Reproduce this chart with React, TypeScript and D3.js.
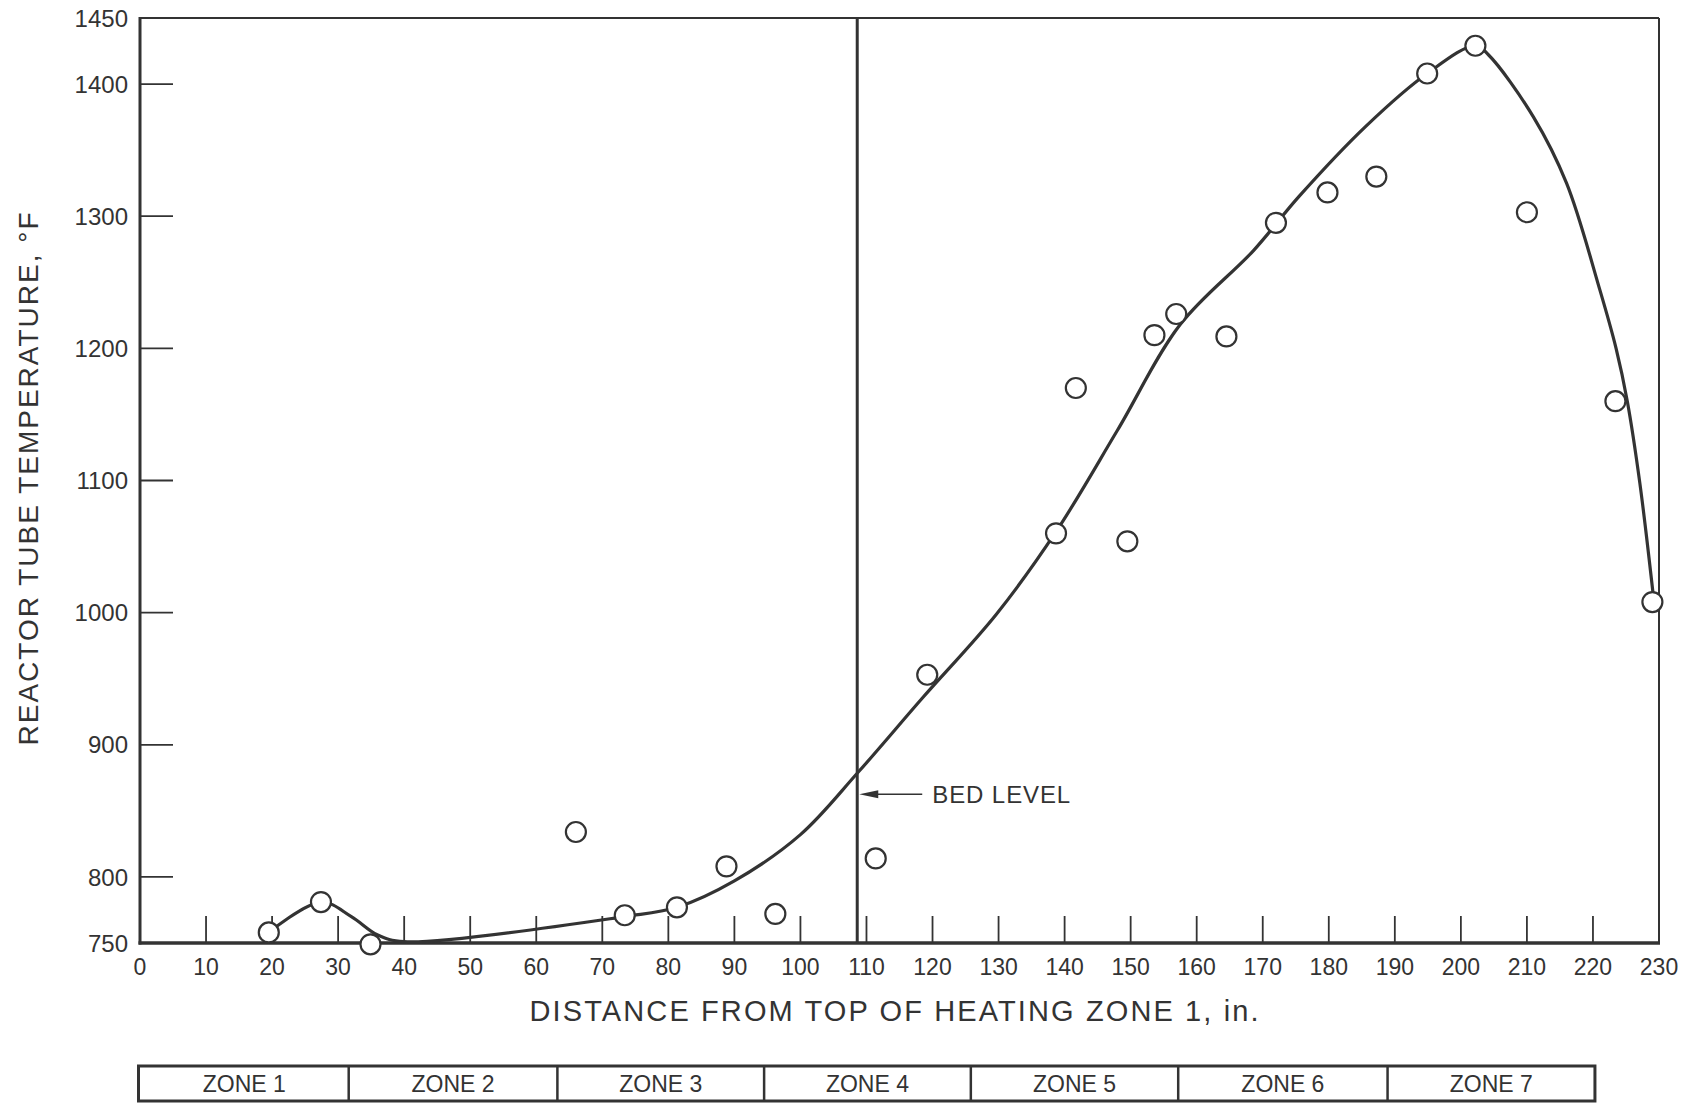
import React from 'react';
import * as d3 from 'd3';

// measured points: distance from top of heating zone 1 (in) and tube temperature (F)
const pointX = [19.5, 27.4, 34.9, 66, 73.4, 81.3, 88.8, 96.2, 111.4, 119.2, 138.7, 141.7, 149.5, 153.6, 156.9, 164.5, 172, 179.8, 187.2, 194.9, 202.2, 210, 223.4, 229];
const pointT = [758, 781, 749, 834, 771, 777, 808, 772, 814, 953, 1060, 1170, 1054, 1210, 1226, 1209, 1295, 1318, 1330, 1408, 1429, 1303, 1160, 1008];

// hand-drawn fitted curve
const curveX = [19.5, 27.4, 32, 36, 40, 73.4, 81.3, 90, 100, 108.7, 118.4, 129.7, 138.8, 148, 157.5, 168.6, 175.5, 185.6, 194.9, 202.2, 204.2, 211, 216, 221, 223.5, 225.2, 227.1, 229.2];
const curveT = [758, 781, 770, 756, 751, 770, 777, 797, 832, 879, 935, 999, 1062, 1138, 1218, 1274, 1315, 1368, 1408, 1429, 1422, 1375, 1325, 1245, 1200, 1160, 1098, 1010];

const bedLevelX = 108.6;
const bedArrowT = 862.5;

const xTickValues = [10, 20, 30, 40, 50, 60, 70, 80, 90, 100, 110, 120, 130, 140, 150, 160, 170, 180, 190, 200, 210, 220];
const xTickLabels = ['0', '10', '20', '30', '40', '50', '60', '70', '80', '90', '100', '110', '120', '130', '140', '150', '160', '170', '180', '190', '200', '210', '220', '230'];
const yTickValues = [800, 900, 1000, 1100, 1200, 1300, 1400];
const yTickLabels = [750, 800, 900, 1000, 1100, 1200, 1300, 1400, 1450];

const zoneNames = ['ZONE 1', 'ZONE 2', 'ZONE 3', 'ZONE 4', 'ZONE 5', 'ZONE 6', 'ZONE 7'];
const zoneEdges = [0, 31.6, 63.2, 94.5, 125.8, 157.2, 188.9, 220.3];

const ink = '#333';
const font = '"Liberation Sans", Arial, sans-serif';

export default function App() {
  const x = d3.scaleLinear().domain([0, 230]).range([140, 1659]);
  const y = d3.scaleLinear().domain([750, 1450]).range([943, 18]);

  const curve = curveX.map((v, i) => [v, curveT[i]] as [number, number]);
  const line = d3
    .line<[number, number]>()
    .x(d => x(d[0]))
    .y(d => y(d[1]))
    .curve(d3.curveCatmullRom.alpha(0.5));

  const [x0, x1] = x.range();
  const [y0, y1] = y.range();
  const zoneTop = 1066;
  const zoneBottom = 1101;

  const bx = x(bedLevelX) + 2;
  const by = y(bedArrowT);

  return (
    <svg
      width={1703}
      height={1104}
      style={{ position: 'absolute', left: 0, top: 0, background: '#fff' }}
      fontFamily={font}
    >
      {/* frame */}
      <line x1={x0} x2={x1} y1={y1} y2={y1} stroke={ink} strokeWidth={2} />
      <line x1={x1} x2={x1} y1={y1} y2={y0} stroke={ink} strokeWidth={2} />
      <line x1={x0} x2={x0} y1={y1 - 1} y2={y0 + 1.5} stroke={ink} strokeWidth={3} />
      <line x1={x0 - 1.5} x2={x1 + 1} y1={y0} y2={y0} stroke={ink} strokeWidth={3.5} />

      {/* y ticks */}
      {yTickValues.map(v => (
        <line key={'yt' + v} x1={x0} x2={x0 + 33} y1={y(v)} y2={y(v)} stroke={ink} strokeWidth={1.8} />
      ))}
      {yTickLabels.map(v => (
        <text key={'yl' + v} x={128} y={y(v)} dy="0.36em" textAnchor="end" fontSize={24} fill={ink}>
          {v}
        </text>
      ))}

      {/* x ticks */}
      {xTickValues.map(v => (
        <line key={'xt' + v} x1={x(v)} x2={x(v)} y1={y0} y2={y0 - 27} stroke={ink} strokeWidth={1.8} />
      ))}
      {xTickLabels.map((s, i) => (
        <text key={'xl' + s} x={x(i * 10)} y={975} textAnchor="middle" fontSize={23} fill={ink}>
          {s}
        </text>
      ))}

      {/* bed level */}
      <line x1={x(bedLevelX)} x2={x(bedLevelX)} y1={y1} y2={y0} stroke={ink} strokeWidth={3} />
      <line x1={bx + 10} x2={bx + 63} y1={by} y2={by} stroke={ink} strokeWidth={1.5} />
      <path d={`M${bx},${by} L${bx + 19},${by - 4} L${bx + 19},${by + 4} Z`} fill={ink} />
      <text x={bx + 73} y={by} dy="0.36em" fontSize={24} fill={ink} textLength={138} lengthAdjust="spacing">
        BED LEVEL
      </text>

      {/* fitted curve */}
      <path d={line(curve) || ''} fill="none" stroke={ink} strokeWidth={3.2} strokeLinejoin="round" />

      {/* data points */}
      {pointX.map((v, i) => (
        <circle key={'p' + i} cx={x(v)} cy={y(pointT[i])} r={10} fill="#fff" stroke={ink} strokeWidth={2.2} />
      ))}

      {/* axis titles */}
      <text x={894} y={1021} textAnchor="middle" fontSize={29} fill={ink} textLength={729} lengthAdjust="spacing">
        DISTANCE FROM TOP OF HEATING ZONE 1, in.
      </text>
      <text
        transform={`translate(38,479) rotate(-90)`}
        textAnchor="middle"
        fontSize={28}
        fill={ink}
        textLength={533}
        lengthAdjust="spacing"
      >
        REACTOR TUBE TEMPERATURE, °F
      </text>

      {/* zone bar */}
      <rect
        x={x(zoneEdges[0]) - 1.5}
        y={zoneTop}
        width={x(zoneEdges[zoneEdges.length - 1]) - x(zoneEdges[0]) + 1.5}
        height={zoneBottom - zoneTop}
        fill="none"
        stroke={ink}
        strokeWidth={3}
      />
      {zoneEdges.slice(1, -1).map(v => (
        <line key={'ze' + v} x1={x(v)} x2={x(v)} y1={zoneTop} y2={zoneBottom} stroke={ink} strokeWidth={2.5} />
      ))}
      {zoneNames.map((n, i) => (
        <text
          key={n}
          x={(x(zoneEdges[i]) + x(zoneEdges[i + 1])) / 2}
          y={(zoneTop + zoneBottom) / 2}
          dy="0.36em"
          textAnchor="middle"
          fontSize={23}
          fill={ink}
        >
          {n}
        </text>
      ))}
    </svg>
  );
}
